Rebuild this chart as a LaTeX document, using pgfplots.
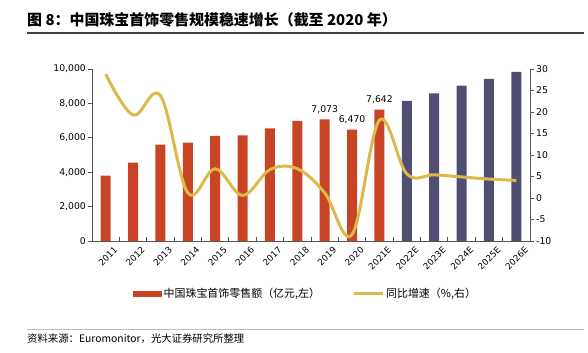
\documentclass[border=0pt]{standalone}
\usepackage{fontspec}
\setmainfont{Noto Sans CJK SC}
\newfontfamily\numfont{DejaVu Sans}
\usepackage{pgfplots}
\pgfplotsset{compat=1.18}
\definecolor{barred}{HTML}{C94424}
\definecolor{barblue}{HTML}{514E74}
\definecolor{gold}{HTML}{DDB94B}
\definecolor{axisgray}{HTML}{555555}
\begin{document}
\begin{tikzpicture}[x=1bp,y=1bp]
\useasboundingbox (0,0) rectangle (588,352);
\node[anchor=base west, inner sep=0pt, font=\fontsize{15}{17}\selectfont\bfseries] at (27,327) {图 8：中国珠宝首饰零售规模稳速增长（截至 2020 年）};
\draw[black!75, line width=1.2bp] (27,319) -- (584,319);
\draw[black!25, line width=0.8bp] (27,23) -- (584,23);
\node[anchor=base west, inner sep=0pt, font=\fontsize{10.4}{12}\selectfont] at (27,10) {资料来源：Euromonitor，光大证券研究所整理};

\begin{axis}[
  at={(92bp,111bp)}, anchor=south west,
  scale only axis, width=438bp, height=172bp,
  xmin=-0.5, xmax=15.5, ymin=0, ymax=10000,
  axis x line*=bottom, axis y line*=left,
  axis line style={-, axisgray, line width=0.8bp},
  ytick={0,2000,...,10000},
  scaled y ticks=false,
  /pgf/number format/1000 sep={,},
  /pgf/number format/assume math mode=true,
  yticklabel style={font=\numfont\fontsize{9.3}{10}\selectfont, inner sep=2bp},
  ytick align=outside,
  xtick align=inside,
  major tick length=4bp,
  tick style={axisgray, line width=0.8bp},
  xtick={0.5,1.5,...,14.5}, xticklabels={},
  extra x ticks={0,...,15},
  extra x tick labels={2011,2012,2013,2014,2015,2016,2017,2018,2019,2020,2021E,2022E,2023E,2024E,2025E,2026E},
  extra x tick style={major tick length=0pt},
  xticklabel style={font=\numfont\fontsize{8.8}{10}\selectfont, rotate=45, anchor=north east, inner sep=0pt, yshift=-9bp, xshift=2bp},
  legend columns=2,
  legend style={at={(0.487,-0.308)}, anchor=center, draw=none, fill=none,
    font=\fontsize{11}{12}\selectfont,
    /tikz/every even column/.append style={column sep=30bp}},
]
\addplot[ybar, bar width=10bp, bar shift=0pt, fill=barred, draw=none,
  legend image code/.code={\fill[barred] (0bp,-3bp) rectangle (29bp,3bp);}]
  coordinates {(0,3800)(1,4550)(2,5600)(3,5720)(4,6110)(5,6140)(6,6550)(7,6990)(8,7073)(9,6470)(10,7642)};
\addlegendentry{中国珠宝首饰零售额（亿元,左）}
\addplot[ybar, bar width=10bp, bar shift=0pt, fill=barblue, draw=none, forget plot]
  coordinates {(11,8150)(12,8590)(13,9035)(14,9420)(15,9830)};
\addlegendimage{gold, line width=3bp, legend image code/.code={\draw[gold, line width=3bp] (0bp,0bp) -- (29bp,0bp);}}
\addlegendentry{同比增速（\%,右）}
\node[anchor=south, inner sep=0pt, yshift=6bp, font=\numfont\fontsize{9.3}{10}\selectfont] at (axis cs:8,7073) {7,073};
\node[anchor=south, inner sep=0pt, yshift=6bp, font=\numfont\fontsize{9.3}{10}\selectfont] at (axis cs:9,6470) {6,470};
\node[anchor=south, inner sep=0pt, yshift=6bp, font=\numfont\fontsize{9.3}{10}\selectfont] at (axis cs:10,7642) {7,642};
\end{axis}

\begin{axis}[
  at={(92bp,111bp)}, anchor=south west,
  scale only axis, width=438bp, height=172bp,
  xmin=-0.5, xmax=15.5, ymin=-10, ymax=30,
  axis x line=none, axis y line*=right,
  axis line style={-, axisgray, line width=0.8bp},
  ytick={-10,-5,...,30},
  /pgf/number format/assume math mode=true,
  yticklabel style={font=\numfont\fontsize{9.3}{10}\selectfont, inner sep=2bp},
  ytick align=outside,
  major tick length=4bp,
  tick style={axisgray, line width=0.8bp},
]
\addplot[gold, line width=3bp, smooth, tension=0.6]
  coordinates {(0,28.8)(1,19.3)(2,23.8)(3,1.2)(4,6.8)(5,0.6)(6,6.6)(7,6.8)(8,1.2)(9,-8.5)(10,18.1)(11,5.6)(12,5.4)(13,4.9)(14,4.4)(15,4.1)};
\end{axis}
\end{tikzpicture}
\end{document}
